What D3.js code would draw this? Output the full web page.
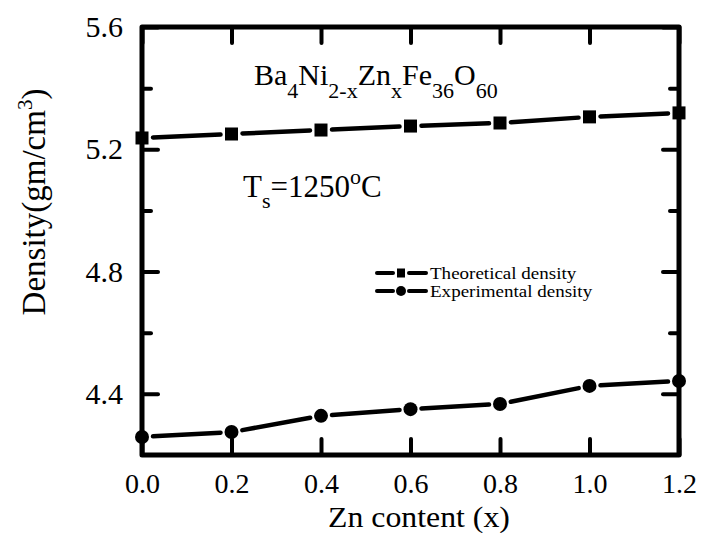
<!DOCTYPE html>
<html><head><meta charset="utf-8">
<script src="https://cdn.jsdelivr.net/npm/d3@7"></script>
<style>body{margin:0;background:#fff}svg{display:block}</style>
</head><body>
<script>
const xValues = [0.0, 0.2, 0.4, 0.6, 0.8, 1.0, 1.2];
const theoretical = [5.237, 5.250, 5.263, 5.276, 5.286, 5.306, 5.319];
const experimental = [4.259, 4.275, 4.328, 4.350, 4.367, 4.426, 4.442];
const xTicks = [0.0, 0.2, 0.4, 0.6, 0.8, 1.0, 1.2];
const yMajor = [4.4, 4.8, 5.2, 5.6];
const yMinor = [4.6, 5.0, 5.4];
const seriesNames = ["Theoretical density", "Experimental density"];

const FONT = "'Liberation Serif', 'Times New Roman', serif";
const W = 703, H = 533;
const m = {l: 142, r: 679, t: 27, b: 455};
const svg = d3.select("body").append("svg").attr("width", W).attr("height", H)
  .style("font-family", FONT);
const x = d3.scaleLinear().domain([0, 1.2]).range([m.l, m.r]);
const y = d3.scaleLinear().domain([4.2, 5.6]).range([m.b, m.t]);

function brokenLine(g, pts, gap, lw) {
  for (let i = 0; i < pts.length - 1; i++) {
    const [x1, y1] = pts[i], [x2, y2] = pts[i + 1];
    const dx = x2 - x1, dy = y2 - y1, L = Math.hypot(dx, dy);
    const ux = dx / L, uy = dy / L;
    g.append("line")
      .attr("x1", x1 + ux * gap).attr("y1", y1 + uy * gap)
      .attr("x2", x2 - ux * gap).attr("y2", y2 - uy * gap)
      .attr("stroke", "#000").attr("stroke-width", lw).attr("stroke-linecap", "round");
  }
}

const data = svg.append("g");
const tp = xValues.map((v, i) => [x(v), y(theoretical[i])]);
const ep = xValues.map((v, i) => [x(v), y(experimental[i])]);
brokenLine(data, tp, 11, 4.5);
brokenLine(data, ep, 11, 4.5);
data.selectAll("rect.sq").data(tp).join("rect").attr("class", "sq")
  .attr("x", d => d[0] - 6.5).attr("y", d => d[1] - 6.5).attr("width", 13).attr("height", 13).attr("fill", "#000");
data.selectAll("circle.ci").data(ep).join("circle").attr("class", "ci")
  .attr("cx", d => d[0]).attr("cy", d => d[1]).attr("r", 7).attr("fill", "#000");

// axes
const axStyle = (size) => g => {
  g.attr("font-family", null).attr("font-size", null);
  g.select(".domain").remove();
  g.selectAll(".tick line").attr("stroke-width", 4).attr("stroke-linecap", "round");
  g.selectAll("text").style("font-family", FONT).style("font-size", size + "px").attr("fill", "#000");
};
const fmt = d3.format(".1f");
svg.append("g").attr("transform", `translate(0,${m.b})`)
  .call(d3.axisBottom(x).tickValues(xTicks).tickSize(-16).tickPadding(18).tickFormat(fmt)).call(axStyle(28));
svg.append("g").attr("transform", `translate(0,${m.t})`)
  .call(d3.axisTop(x).tickValues(xTicks).tickSize(-16).tickFormat("")).call(axStyle(28));
svg.append("g").attr("transform", `translate(${m.l},0)`)
  .call(d3.axisLeft(y).tickValues(yMajor).tickSize(-16).tickPadding(19).tickFormat(fmt)).call(axStyle(30));
svg.append("g").attr("transform", `translate(${m.l},0)`)
  .call(d3.axisLeft(y).tickValues(yMinor).tickSize(-9).tickFormat("")).call(axStyle(30));
svg.append("g").attr("transform", `translate(${m.r},0)`)
  .call(d3.axisRight(y).tickValues(yMajor).tickSize(-16).tickFormat("")).call(axStyle(30));
svg.append("g").attr("transform", `translate(${m.r},0)`)
  .call(d3.axisRight(y).tickValues(yMinor).tickSize(-9).tickFormat("")).call(axStyle(30));

svg.append("rect").attr("x", m.l).attr("y", m.t).attr("width", m.r - m.l).attr("height", m.b - m.t)
  .attr("fill", "none").attr("stroke", "#000").attr("stroke-width", 5).attr("stroke-linejoin", "round");

// axis titles
svg.append("text").attr("transform", "translate(419,527) scale(1.06,1)").attr("text-anchor", "middle").style("font-size", "30px")
  .text("Zn content (x)");
const yt = svg.append("text").attr("transform", "translate(45,202) rotate(-90)").attr("text-anchor", "middle").style("font-size", "33px");
yt.append("tspan").text("Density(gm/cm");
yt.append("tspan").attr("dy", -13).style("font-size", "21px").text("3");
yt.append("tspan").attr("dy", 13).text(")");

// formula
const f = svg.append("text").attr("x", 254).attr("y", 85).style("font-size", "30px");
const parts = [["Ba", 0], ["4", 1], ["Ni", 0], ["2-x", 1], ["Zn", 0], ["x", 1], ["Fe", 0], ["36", 1], ["O", 0], ["60", 1]];
let prev = 0;
parts.forEach(([t, sub]) => {
  const dy = sub ? 13 : 0;
  f.append("tspan").attr("dy", dy - prev).style("font-size", sub ? "22px" : "30px").text(t);
  prev = dy;
});

const ts = svg.append("text").attr("x", 243).attr("y", 197).style("font-size", "31px");
ts.append("tspan").text("T");
ts.append("tspan").attr("dy", 11).style("font-size", "22px").text("s");
ts.append("tspan").attr("dy", -11).text("=1250");
ts.append("tspan").attr("dy", -13).style("font-size", "22px").text("o");
ts.append("tspan").attr("dy", 13).text("C");

// legend
const leg = svg.append("g");
[273, 291].forEach((ly, i) => {
  leg.append("line").attr("x1", 377).attr("x2", 393).attr("y1", ly).attr("y2", ly).attr("stroke", "#000").attr("stroke-width", 4).attr("stroke-linecap", "round");
  leg.append("line").attr("x1", 409).attr("x2", 426).attr("y1", ly).attr("y2", ly).attr("stroke", "#000").attr("stroke-width", 4).attr("stroke-linecap", "round");
  if (i === 0) leg.append("rect").attr("x", 397).attr("y", ly - 4.5).attr("width", 8).attr("height", 9).attr("fill", "#000");
  else leg.append("circle").attr("cx", 401).attr("cy", ly).attr("r", 5).attr("fill", "#000");
  leg.append("text").attr("transform", `translate(430,${ly + 5.5}) scale(1.12,1)`).style("font-size", "17px").text(seriesNames[i]);
});
</script>
</body></html>
